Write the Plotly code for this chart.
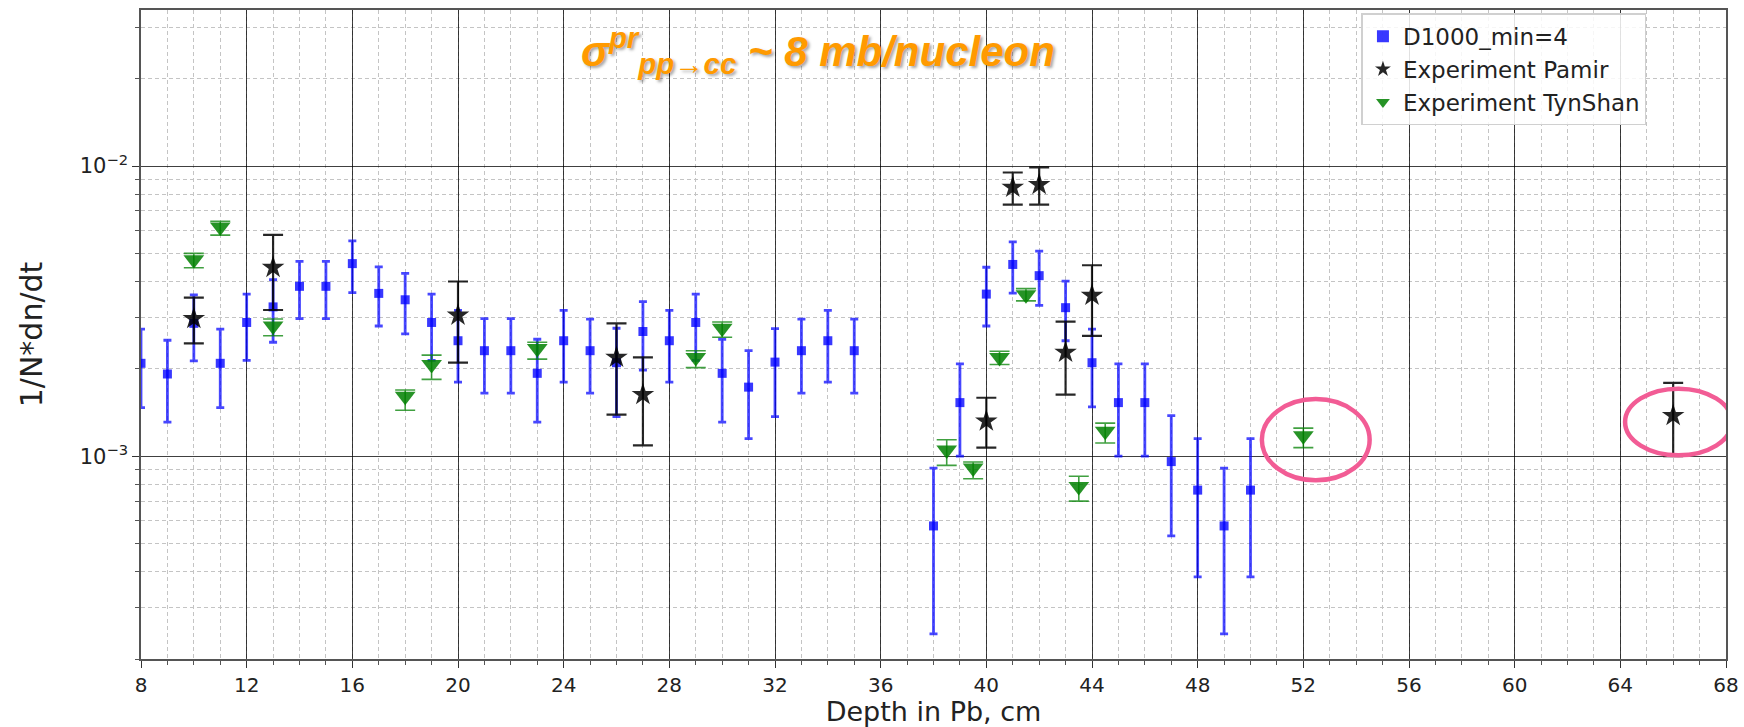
import math
import plotly.graph_objects as go

# ---------------- data ----------------
# D1000_min=4 (simulation)
sim_depth = [8, 9, 10, 11, 12, 13, 14, 15, 16, 17, 18, 19, 20, 21, 22, 23, 24, 25, 26, 27,
             28, 29, 30, 31, 32, 33, 34, 35, 38, 39, 40, 41, 42, 43, 44, 45, 46, 47, 48, 49, 50]
sim_val = [2.09e-3, 1.92e-3, 2.87e-3, 2.09e-3, 2.89e-3, 3.27e-3, 3.85e-3, 3.85e-3, 4.61e-3, 3.64e-3,
           3.46e-3, 2.89e-3, 2.50e-3, 2.31e-3, 2.31e-3, 1.93e-3, 2.50e-3, 2.31e-3, 2.10e-3, 2.69e-3,
           2.50e-3, 2.89e-3, 1.93e-3, 1.73e-3, 2.11e-3, 2.31e-3, 2.50e-3, 2.31e-3, 5.75e-4, 1.53e-3,
           3.62e-3, 4.58e-3, 4.19e-3, 3.25e-3, 2.10e-3, 1.53e-3, 1.53e-3, 9.58e-4, 7.64e-4, 5.75e-4, 7.64e-4]
sim_hi = [2.74e-3, 2.51e-3, 3.60e-3, 2.74e-3, 3.62e-3, 4.06e-3, 4.69e-3, 4.69e-3, 5.52e-3, 4.49e-3,
          4.27e-3, 3.62e-3, 3.18e-3, 2.98e-3, 2.98e-3, 2.53e-3, 3.18e-3, 2.97e-3, 2.76e-3, 3.41e-3,
          3.18e-3, 3.62e-3, 2.53e-3, 2.31e-3, 2.75e-3, 2.97e-3, 3.18e-3, 2.97e-3, 9.10e-4, 2.08e-3,
          4.48e-3, 5.48e-3, 5.09e-3, 4.01e-3, 2.74e-3, 2.08e-3, 2.08e-3, 1.38e-3, 1.15e-3, 9.10e-4, 1.15e-3]
sim_lo = [1.47e-3, 1.31e-3, 2.13e-3, 1.47e-3, 2.14e-3, 2.47e-3, 2.98e-3, 2.98e-3, 3.66e-3, 2.81e-3,
          2.64e-3, 2.14e-3, 1.80e-3, 1.65e-3, 1.65e-3, 1.31e-3, 1.80e-3, 1.65e-3, 1.37e-3, 1.98e-3,
          1.80e-3, 2.14e-3, 1.31e-3, 1.15e-3, 1.37e-3, 1.65e-3, 1.80e-3, 1.65e-3, 2.44e-4, 1.00e-3,
          2.81e-3, 3.65e-3, 3.31e-3, 2.50e-3, 1.48e-3, 1.00e-3, 1.00e-3, 5.31e-4, 3.84e-4, 2.44e-4, 3.84e-4]

# Experiment Pamir
pam_depth = [10, 13, 20, 26, 27, 40, 41, 42, 43, 44, 66]
pam_val = [2.98e-3, 4.47e-3, 3.06e-3, 2.19e-3, 1.63e-3, 1.32e-3, 8.44e-3, 8.63e-3, 2.28e-3, 3.58e-3, 1.38e-3]
pam_hi = [3.52e-3, 5.79e-3, 4.00e-3, 2.87e-3, 2.19e-3, 1.59e-3, 9.50e-3, 9.90e-3, 2.91e-3, 4.55e-3, 1.79e-3]
pam_lo = [2.45e-3, 3.19e-3, 2.10e-3, 1.39e-3, 1.09e-3, 1.07e-3, 7.36e-3, 7.36e-3, 1.63e-3, 2.60e-3, 1.00e-3]

# Experiment TynShan
tyn_depth = [10, 11, 13, 18, 19, 23, 29, 30, 38.5, 39.5, 40.5, 41.5, 43.5, 44.5, 52]
tyn_val = [4.75e-3, 6.16e-3, 2.81e-3, 1.61e-3, 2.07e-3, 2.35e-3, 2.19e-3, 2.76e-3,
           1.05e-3, 9.10e-4, 2.19e-3, 3.60e-3, 7.86e-4, 1.22e-3, 1.175e-3]
tyn_hi = [5.00e-3, 6.45e-3, 2.97e-3, 1.69e-3, 2.23e-3, 2.47e-3, 2.31e-3, 2.90e-3,
          1.14e-3, 9.55e-4, 2.30e-3, 3.78e-3, 8.53e-4, 1.30e-3, 1.25e-3]
tyn_lo = [4.46e-3, 5.78e-3, 2.60e-3, 1.44e-3, 1.84e-3, 2.16e-3, 2.02e-3, 2.57e-3,
          9.30e-4, 8.36e-4, 2.07e-3, 3.43e-3, 7.00e-4, 1.11e-3, 1.07e-3]

x_ticks = [8, 12, 16, 20, 24, 28, 32, 36, 40, 44, 48, 52, 56, 60, 64, 68]
y_ticks = [1e-3, 1e-2]
y_ticktext = ["10<sup>\u22123</sup>", "10<sup>\u22122</sup>"]

# highlighted points (hand-drawn circles in the original)
circled_x = [52, 66]
circled_y = [1.175e-3, 1.38e-3]
# circle geometry (style): x-offset of centre, half-width (cm), y-offset & half-height (decades)
circle_dx = [0.47, 0.2]
circle_rx = [2.04, 2.02]
circle_dy = [-0.013, -0.022]
circle_ry = [0.14, 0.115]


def plus(v, hi):
    return [h - x for x, h in zip(v, hi)]


def minus(v, lo):
    return [x - l for x, l in zip(v, lo)]


fig = go.Figure()

fig.add_trace(go.Scatter(
    x=sim_depth, y=sim_val, mode="markers", name="D1000_min=4",
    marker=dict(symbol="square", size=9, color="rgba(0,0,255,0.78)", line=dict(width=0)),
    error_y=dict(type="data", symmetric=False, array=plus(sim_val, sim_hi),
                 arrayminus=minus(sim_val, sim_lo), color="rgba(0,0,255,0.72)",
                 thickness=2.8, width=4),
))
fig.add_trace(go.Scatter(
    x=pam_depth, y=pam_val, mode="markers", name="Experiment Pamir",
    marker=dict(symbol="star", size=17, color="rgba(0,0,0,0.85)", line=dict(width=0)),
    error_y=dict(type="data", symmetric=False, array=plus(pam_val, pam_hi),
                 arrayminus=minus(pam_val, pam_lo), color="rgba(0,0,0,0.85)",
                 thickness=2.2, width=10),
))
fig.add_trace(go.Scatter(
    x=tyn_depth, y=tyn_val, mode="markers", name="Experiment TynShan",
    marker=dict(symbol="triangle-down", size=18, color="rgba(0,128,0,0.85)", line=dict(width=0)),
    error_y=dict(type="data", symmetric=False, array=plus(tyn_val, tyn_hi),
                 arrayminus=minus(tyn_val, tyn_lo), color="rgba(0,128,0,0.75)",
                 thickness=1.6, width=10),
))

# pink hand-drawn style circles around highlighted points
for cx, cy, dx, rx, dy, ry in zip(circled_x, circled_y, circle_dx, circle_rx, circle_dy, circle_ry):
    ly = math.log10(cy) + dy
    fig.add_shape(type="circle", xref="x", yref="y",
                  x0=cx + dx - rx, x1=cx + dx + rx,
                  y0=10 ** (ly - ry), y1=10 ** (ly + ry),
                  line=dict(color="#F25C95", width=4.5))

minor_y = [m * 10 ** e for e in (-4, -3, -2) for m in range(2, 10) if 2e-4 <= m * 10 ** e <= 0.035]

axis_font = dict(family="DejaVu Sans", size=20, color="#222")

fig.update_xaxes(
    type="linear", range=[8, 68], tickvals=x_ticks, ticktext=[str(t) for t in x_ticks],
    tickfont=axis_font, ticks="outside", ticklen=7, tickwidth=1.2, tickcolor="#333",
    showgrid=True, gridcolor="rgba(0,0,0,0.75)", gridwidth=1.3,
    minor=dict(dtick=1, showgrid=True, gridcolor="#c4c4c4", griddash="4px,3px", gridwidth=1,
               ticks="outside", ticklen=4, tickcolor="#555"),
    showline=True, linecolor="#555", linewidth=1.5, mirror=True, zeroline=False,
    automargin=False,
    title=dict(text="Depth in Pb, cm", font=dict(family="DejaVu Sans", size=27, color="#222"),
               standoff=14),
)
fig.update_yaxes(
    type="log", range=[math.log10(2e-4), math.log10(0.0345)],
    tickvals=y_ticks, ticktext=y_ticktext,
    tickfont=dict(family="DejaVu Sans", size=21, color="#222"),
    ticks="outside", ticklen=7, tickwidth=1.2, tickcolor="#333",
    showgrid=True, gridcolor="rgba(0,0,0,0.75)", gridwidth=1.3,
    minor=dict(tickvals=minor_y, showgrid=True, gridcolor="#c4c4c4", griddash="4px,3px",
               gridwidth=1, ticks="outside", ticklen=4, tickcolor="#555"),
    showline=True, linecolor="#555", linewidth=1.5, mirror=True, zeroline=False,
    automargin=False,
    title=dict(text="1/N*dn/dt", font=dict(family="DejaVu Sans", size=30, color="#222"),
               standoff=28),
)

fig.add_annotation(
    xref="paper", yref="paper", x=0.427, y=0.938, xanchor="center", yanchor="middle",
    text="\u03c3<sup>pr</sup><sub>pp\u2192cc</sub> ~ 8 mb/nucleon", showarrow=False,
    font=dict(family="Liberation Sans", size=42, color="#FF9A00", weight="bold", style="italic",
              shadow="2px 2px 3px rgba(0,0,0,0.35)"),
)

fig.update_layout(
    width=1744, height=727,
    margin=dict(l=141, r=18, t=10, b=68),
    paper_bgcolor="white", plot_bgcolor="white",
    showlegend=True,
    legend=dict(x=0.770, y=0.995, xanchor="left", yanchor="top",
                bgcolor="rgba(255,255,255,0.85)", bordercolor="#d0d0d0", borderwidth=1.5,
                font=dict(family="DejaVu Sans", size=23, color="#222"),
                itemsizing="constant", tracegroupgap=0),
)

fig.write_html(
    "out.html",
    config={"displayModeBar": False},
    post_script="document.body.style.margin='0';document.body.style.overflow='hidden';",
)
